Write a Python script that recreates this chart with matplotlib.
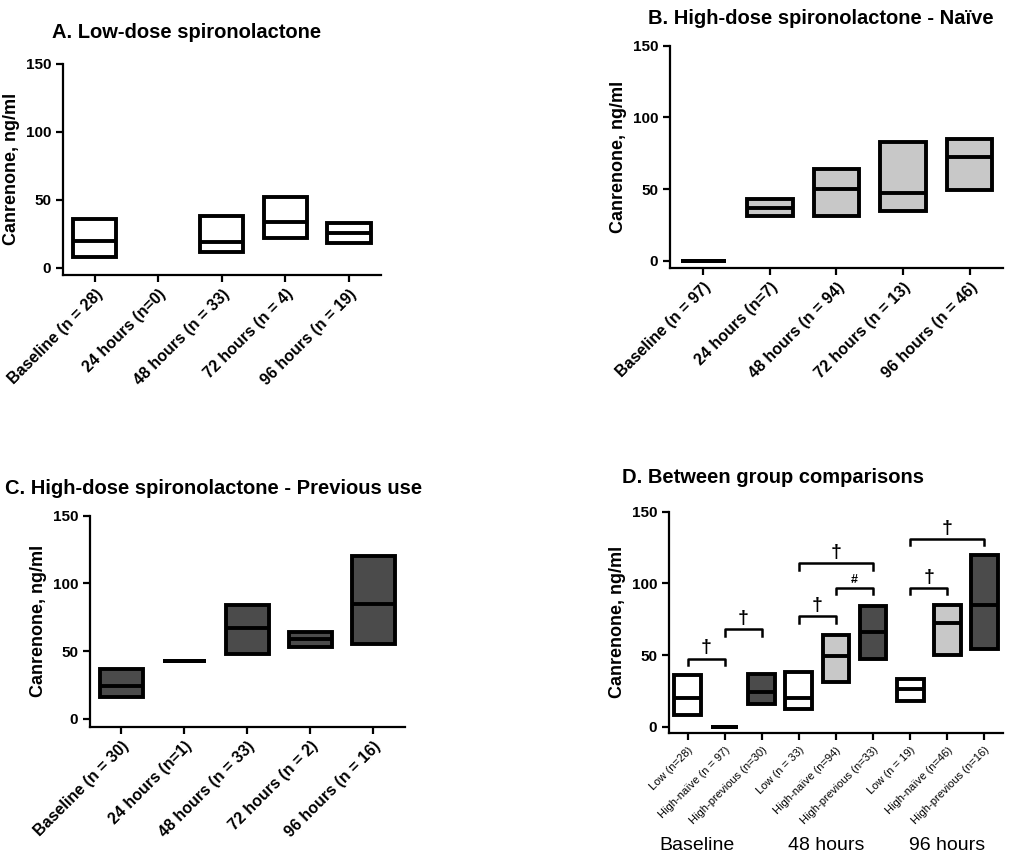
import matplotlib
matplotlib.use('Agg')
import matplotlib.pyplot as plt

plt.rcParams['font.family'] = ['Liberation Sans', 'DejaVu Sans']

# ---------------- data (interquartile box: low, median, high) ----------------
time_labels_a = ['Baseline (n = 28)', '24 hours (n=0)', '48 hours (n = 33)',
                 '72 hours (n = 4)', '96 hours (n = 19)']
low_a = [8, None, 12, 22, 18]
med_a = [20, None, 19, 34, 26]
high_a = [36, None, 38, 52, 33]

time_labels_b = ['Baseline (n = 97)', '24 hours (n=7)', '48 hours (n = 94)',
                 '72 hours (n = 13)', '96 hours (n = 46)']
low_b = [0, 31, 31, 35, 49]
med_b = [0, 37, 50, 47, 72]
high_b = [0, 43, 64, 83, 85]

time_labels_c = ['Baseline (n = 30)', '24 hours (n=1)', '48 hours (n = 33)',
                 '72 hours (n = 2)', '96 hours (n = 16)']
low_c = [16, 43, 48, 53, 55]
med_c = [24, 43, 67, 59, 85]
high_c = [37, 43, 84, 64, 120]

group_labels_d = ['Low (n=28)', 'High-naïve (n = 97)', 'High-previous (n=30)',
                  'Low (n = 33)', 'High-naïve (n=94)', 'High-previous (n=33)',
                  'Low (n = 19)', 'High-naïve (n=46)', 'High-previous (n=16)']
low_d = [8, 0, 16, 12, 31, 47, 18, 50, 54]
med_d = [20, 0, 24, 20, 49, 66, 26, 72, 85]
high_d = [36, 0, 37, 38, 64, 84, 33, 85, 120]
dose_d = ['low', 'naive', 'prev'] * 3
time_groups_d = ['Baseline', '48 hours', '96 hours']
time_group_pos_d = [0.25, 3.75, 7.0]

# significance brackets: (start, end, height, symbol)
brackets_d = [(0, 1, 47.5, '†'), (1, 2, 68, '†'), (3, 4, 77, '†'),
              (4, 5, 97, '#'), (3, 5, 114, '†'), (6, 7, 97, '†'),
              (6, 8, 131, '†')]

colors = {'low': 'white', 'naive': '#c8c8c8', 'prev': '#4b4b4b'}

LW = 2.8


def estilo_eixo(ax, ylow):
    for s in ['top', 'right']:
        ax.spines[s].set_visible(False)
    ax.spines['left'].set_linewidth(1.6)
    ax.spines['bottom'].set_linewidth(1.6)
    ax.set_ylim(ylow, 150)
    ax.set_yticks([0, 50, 100, 150])
    ax.tick_params(axis='both', direction='out', length=5, width=1.6)
    for t in ax.get_yticklabels():
        t.set_fontweight('bold')
        t.set_fontsize(11)
    ax.set_ylabel('Canrenone, ng/ml', fontsize=13, fontweight='bold')


def desenha_caixas(ax, low, med, high, color, width=0.68):
    for i in range(len(low)):
        if low[i] is None:
            continue
        c = color[i] if isinstance(color, list) else color
        ax.bar(i, high[i] - low[i], bottom=low[i], width=width, color=c,
               edgecolor='black', linewidth=LW, zorder=2)
        ax.hlines(med[i], i - width / 2, i + width / 2, color='black',
                  linewidth=LW, zorder=3)


def painel(rect, low, med, high, color, labels, ylow):
    ax = fig.add_axes(rect)
    desenha_caixas(ax, low, med, high, color)
    ax.set_xlim(-0.5, len(labels) - 0.5)
    ax.set_xticks(range(len(labels)))
    ax.set_xticklabels(labels, rotation=45, ha='right', rotation_mode='anchor',
                       fontsize=11.5, fontweight='bold')
    estilo_eixo(ax, ylow)
    return ax


fig = plt.figure(figsize=(10.09, 8.59), dpi=100)

painel([0.0624, 0.680, 0.315, 0.2456], low_a, med_a, high_a, 'white',
       time_labels_a, -5.1)
painel([0.664, 0.688, 0.330, 0.2588], low_b, med_b, high_b, colors['naive'],
       time_labels_b, -5.1)
painel([0.0892, 0.154, 0.312, 0.2456], low_c, med_c, high_c, colors['prev'],
       time_labels_c, -5.7)

# panel D
axd = fig.add_axes([0.663, 0.1467, 0.331, 0.2576])
desenha_caixas(axd, low_d, med_d, high_d, [colors[d] for d in dose_d], width=0.72)
axd.set_xlim(-0.5, 8.5)
axd.set_xticks(range(9))
axd.set_xticklabels(group_labels_d, rotation=45, ha='right',
                    rotation_mode='anchor', fontsize=8)
estilo_eixo(axd, -4.4)
for a, b, h, sym in brackets_d:
    axd.plot([a, a, b, b], [h - 4.5, h, h, h - 4.5], color='black',
             linewidth=1.8, clip_on=False)
    axd.text((a + b) / 2, h + 1.5, sym, ha='center', va='bottom',
             fontsize=14 if sym == '†' else 9, fontweight='bold')
for g, p in zip(time_groups_d, time_group_pos_d):
    axd.text(p, -0.51, g, transform=axd.get_xaxis_transform(),
             ha='center', va='center', fontsize=14)

# titles
titulo = dict(fontsize=14.5, fontweight='bold', va='center')
fig.text(52 / 1009, 1 - 32 / 859, 'A. Low-dose spironolactone', **titulo)
fig.text(648 / 1009, 1 - 18 / 859, 'B. High-dose spironolactone - Naïve', **titulo)
fig.text(5 / 1009, 1 - 488 / 859, 'C. High-dose spironolactone - Previous use',
         **titulo)
fig.text(622 / 1009, 1 - 478 / 859, 'D. Between group comparisons', **titulo)

fig.savefig('out.png', dpi=100)
plt.close(fig)
